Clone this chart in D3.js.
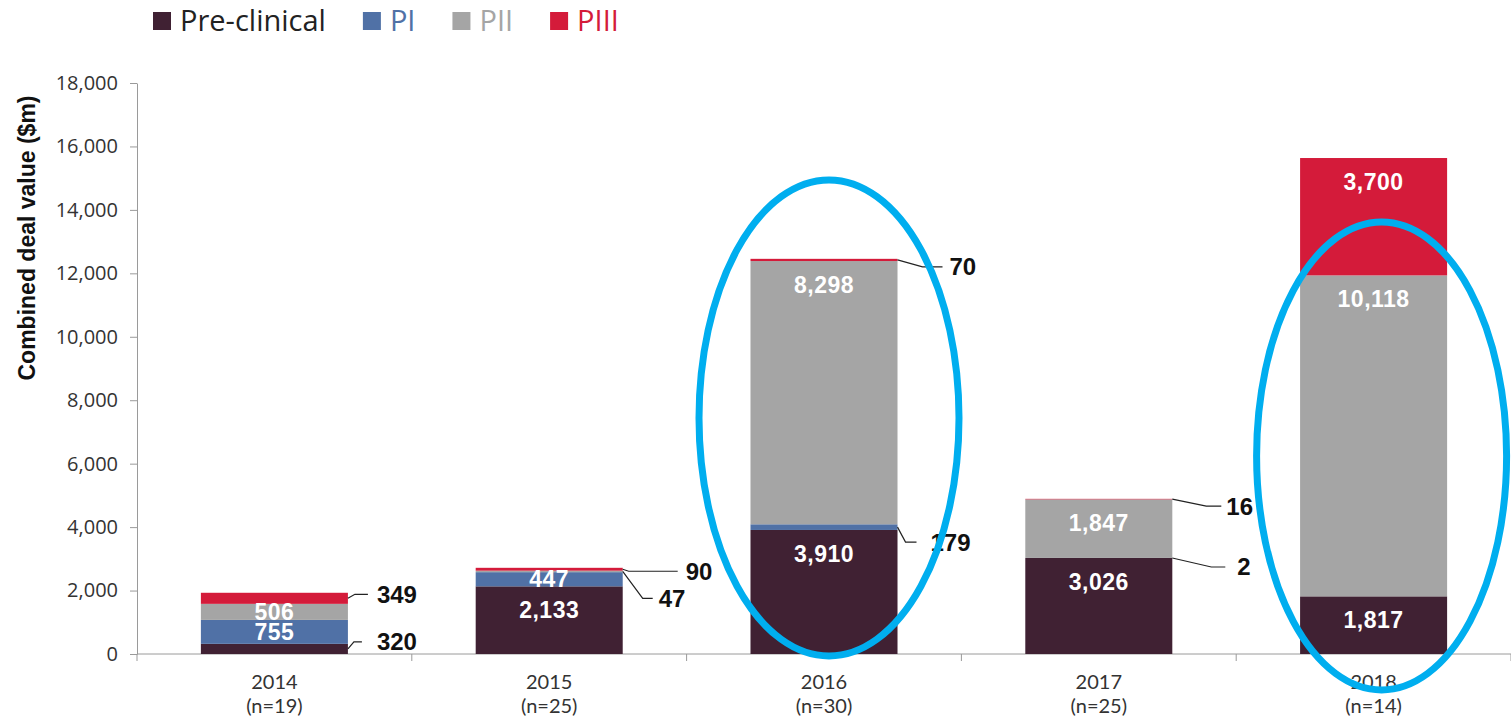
<!DOCTYPE html>
<html>
<head>
<meta charset="utf-8">
<script src="https://cdn.jsdelivr.net/npm/d3@7"></script>
<style>
  body { margin: 0; background: #fff; }
  svg { display: block; }
</style>
</head>
<body>
<svg id="chart"></svg>
<script>
// data
const years = ["2014", "2015", "2016", "2017", "2018"];
const dealCounts = ["(n=19)", "(n=25)", "(n=30)", "(n=25)", "(n=14)"];
const seriesNames = ["Pre-clinical", "PI", "PII", "PIII"];
const preClinical = [320, 2133, 3910, 3026, 1817];
const phaseI = [755, 447, 179, 2, 0];
const phaseII = [506, 47, 8298, 1847, 10118];
const phaseIII = [349, 90, 70, 16, 3700];
const yTicks = [0, 2000, 4000, 6000, 8000, 10000, 12000, 14000, 16000, 18000];

const colors = { "Pre-clinical": "#402133", "PI": "#5071a6", "PII": "#a5a5a5", "PIII": "#d41b3a" };
const legendText = { "Pre-clinical": "#222", "PI": "#5071a6", "PII": "#a5a5a5", "PIII": "#d41b3a" };

// callout placement for the thin segments (pixel offsets from the bar's right edge)
const callouts = [
  { year: "2014", key: "PIII", dy: -4, elbow: 7, end: 20, tx: 29 },
  { year: "2014", key: "Pre-clinical", dy: -7, elbow: 6, end: 14, tx: 29 },
  { year: "2015", key: "PIII", dy: 2, elbow: 6, end: 55, tx: 63 },
  { year: "2015", key: "PII", dy: 27, elbow: 20, end: 30, tx: 36 },
  { year: "2016", key: "PIII", dy: 7, elbow: 25, end: 45, tx: 52 },
  { year: "2016", key: "PI", dy: 15, elbow: 8, end: 19, tx: 33 },
  { year: "2017", key: "PIII", dy: 7, elbow: 34, end: 49, tx: 54 },
  { year: "2017", key: "PI", dy: 9, elbow: 39, end: 53, tx: 65 }
];
// highlight rings
const rings = [
  { year: "2016", value: 7440, dx: 5, rx: 130, ry: 238 },
  { year: "2018", value: 6242, dx: 8, rx: 125, ry: 234 }
];

const width = 1511, height = 725;
const margin = { top: 83, right: 0, bottom: 71, left: 137 };
const plainFont = "'Open Sans', Lato, sans-serif";
const boldFont = "'Liberation Sans', Arial, sans-serif";

const table = years.map((yr, i) => ({
  year: yr,
  "Pre-clinical": preClinical[i], "PI": phaseI[i], "PII": phaseII[i], "PIII": phaseIII[i]
}));
const stacked = d3.stack().keys(seriesNames)(table);

const svg = d3.select("#chart").attr("width", width).attr("height", height);

const x = d3.scaleBand().domain(years).range([margin.left, width - margin.right])
  .paddingInner(0.465).paddingOuter(0.2325);
const y = d3.scaleLinear().domain([0, 18000]).range([height - margin.bottom, margin.top]);
const fmt = d3.format(",");

// y axis
const yAxis = svg.append("g").attr("transform", `translate(${margin.left},0)`)
  .call(d3.axisLeft(y).tickValues(yTicks).tickFormat(fmt).tickSize(7).tickSizeOuter(0).tickPadding(12));
yAxis.selectAll("path, line").attr("stroke", "#9a9a9a");
yAxis.selectAll("text").attr("font-family", plainFont).attr("font-size", "20px").attr("fill", "#333");

// x axis: line with ticks at category boundaries
const step = x.step();
const xAxisY = y(0);
svg.append("line").attr("x1", margin.left).attr("x2", width).attr("y1", xAxisY).attr("y2", xAxisY)
  .attr("stroke", "#9a9a9a");
svg.append("g").selectAll("line").data(d3.range(years.length + 1)).enter().append("line")
  .attr("x1", i => margin.left + i * step).attr("x2", i => margin.left + i * step)
  .attr("y1", xAxisY).attr("y2", xAxisY + 7).attr("stroke", "#9a9a9a");

const xLabels = svg.append("g").attr("font-family", "Lato, 'Open Sans', sans-serif")
  .attr("font-size", "20px").attr("fill", "#333").attr("text-anchor", "middle");
xLabels.selectAll("text.yr").data(years).enter().append("text").attr("class", "yr")
  .attr("x", d => x(d) + x.bandwidth() / 2).attr("y", xAxisY + 35).text(d => d);
xLabels.selectAll("text.n").data(dealCounts).enter().append("text").attr("class", "n")
  .attr("x", (d, i) => x(years[i]) + x.bandwidth() / 2).attr("y", xAxisY + 59).text(d => d);

// y title
svg.append("text").attr("transform", "rotate(-90)")
  .attr("x", -238).attr("y", 27).attr("dy", "0.35em").attr("text-anchor", "middle")
  .attr("font-family", boldFont).attr("font-weight", "bold")
  .attr("font-size", "23px").attr("fill", "#111").text("Combined deal value ($m)");

// bars
const layers = svg.append("g").selectAll("g").data(stacked).enter().append("g")
  .attr("fill", d => colors[d.key]);
layers.selectAll("rect").data(d => d).enter().append("rect")
  .attr("x", d => x(d.data.year)).attr("width", x.bandwidth())
  .attr("y", d => y(d[1])).attr("height", d => y(d[0]) - y(d[1]));

// labels inside the larger segments
const insideLabels = [];
stacked.forEach(layer => layer.forEach(d => {
  const v = d.data[layer.key];
  if (v > 400) insideLabels.push({ d, v });
}));
svg.append("g").attr("font-family", boldFont).attr("font-weight", "bold")
  .attr("font-size", "23px").attr("fill", "#fff").attr("text-anchor", "middle")
  .selectAll("text").data(insideLabels).enter().append("text")
  .attr("x", l => x(l.d.data.year) + x.bandwidth() / 2)
  .attr("y", l => Math.min(y(l.d[1]) + 24, (y(l.d[0]) + y(l.d[1])) / 2))
  .attr("dy", "0.35em").attr("letter-spacing", "0.5px").text(l => fmt(l.v));

// callouts for thin segments
const seg = (year, key) => stacked.find(s => s.key === key)[years.indexOf(year)];
const cg = svg.append("g");
callouts.forEach(c => {
  const d = seg(c.year, c.key);
  const x0 = x(c.year) + x.bandwidth();
  const y0 = (y(d[0]) + y(d[1])) / 2;
  const ly = y0 + c.dy;
  cg.append("path")
    .attr("d", d3.line()([[x0, y0], [x0 + c.elbow, ly], [x0 + c.end, ly]]))
    .attr("fill", "none").attr("stroke", "#222").attr("stroke-width", 1.2);
  cg.append("text").attr("x", x0 + c.tx).attr("y", ly).attr("dy", "0.35em")
    .attr("font-family", boldFont).attr("font-weight", "bold")
    .attr("font-size", "24px").attr("fill", "#111").text(fmt(d.data[c.key]));
});

// highlight rings
svg.append("g").selectAll("ellipse").data(rings).enter().append("ellipse")
  .attr("cx", r => x(r.year) + x.bandwidth() / 2 + r.dx).attr("cy", r => y(r.value))
  .attr("rx", r => r.rx).attr("ry", r => r.ry)
  .attr("fill", "none").attr("stroke", "#00aeef").attr("stroke-width", 7);

// legend
const legend = svg.append("g").attr("font-family", plainFont).attr("font-size", "29px");
let lx = 153;
seriesNames.forEach(name => {
  legend.append("rect").attr("x", lx).attr("y", 12).attr("width", 18).attr("height", 18)
    .attr("fill", colors[name]);
  const t = legend.append("text").attr("x", lx + 27).attr("y", 21).attr("dy", "0.35em")
    .attr("fill", legendText[name]).text(name);
  lx += 27 + t.node().getComputedTextLength() + 37;
});
</script>
</body>
</html>
